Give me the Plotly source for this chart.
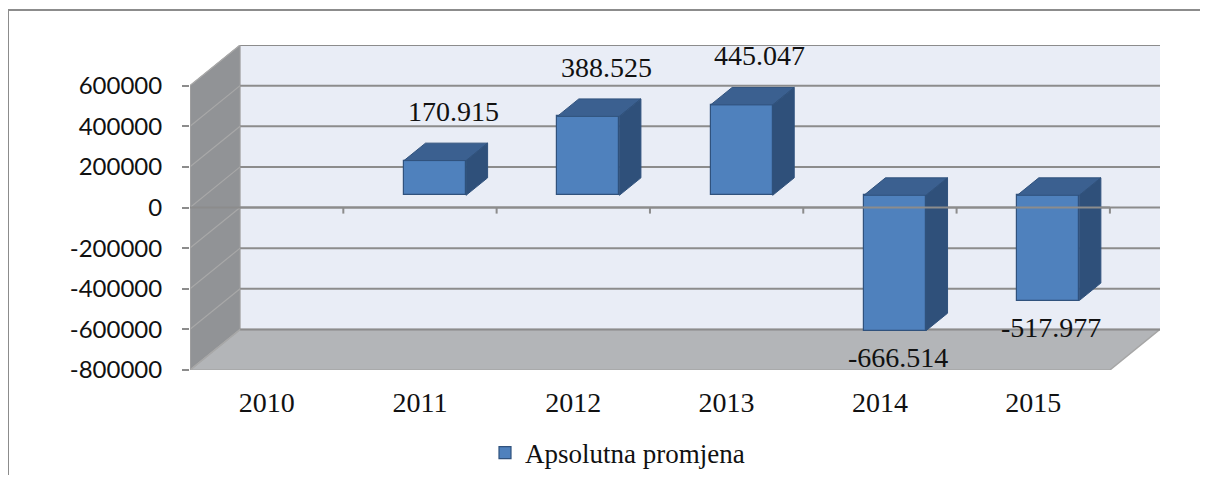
import plotly.graph_objects as go

# ---- data ----
years = ["2010", "2011", "2012", "2013", "2014", "2015"]
values = [None, 170915, 388525, 445047, -666514, -517977]
series_name = "Apsolutna promjena"
y_ticks = [-800000, -600000, -400000, -200000, 0, 200000, 400000, 600000]

# ---- geometry / style ----
OFF = 8                      # page body margin of the browser
W, Hpx = 1208 - 2 * OFF, 483 - 2 * OFF
ML, MT = 190 - OFF, 45 - OFF
MR = W - (1160 - OFF)
MB = Hpx - (370 - OFF)
DEPTH_X = 50 / 153.0        # depth offset in category units
DEPTH_Y = 200000            # depth offset in value units
BAR_POS = 0.30              # bar front face position within depth
BAR_DEPTH = 0.43            # bar depth fraction
BAR_W = 0.405
Y_MIN, Y_MAX = -800000, 800000
X_MIN, X_MAX = -0.5, len(years) - 0.5 + DEPTH_X

FRONT = "#4F81BD"
TOP = "#3B6090"
SIDE = "#2F507A"
EDGE = "#30527D"
GRID = "#8C8C8C"
WALL = "#E9EDF6"
SIDEWALL = "#919396"
FLOOR = "#B3B5B8"

serif = "Liberation Serif"
sans = "Lato"

fig = go.Figure()

# bar front faces
xs = [i + BAR_POS * DEPTH_X for i in range(len(years))]
base0 = BAR_POS * DEPTH_Y
fig.add_trace(go.Bar(
    x=xs, y=values, base=base0, width=BAR_W, name=series_name,
    marker=dict(color=FRONT, line=dict(color=EDGE, width=1.2)),
    showlegend=True, hoverinfo="skip",
))

# top and side faces computed from values
top_x, top_y, side_x, side_y = [], [], [], []
dx, dy = BAR_DEPTH * DEPTH_X, BAR_DEPTH * DEPTH_Y
for xc, v in zip(xs, values):
    if v is None:
        continue
    x0, x1 = xc - BAR_W / 2, xc + BAR_W / 2
    top = base0 + max(v, 0)
    bot = base0 + min(v, 0)
    top_x += [x0, x1, x1 + dx, x0 + dx, x0, None]
    top_y += [top, top, top + dy, top + dy, top, None]
    side_x += [x1, x1, x1 + dx, x1 + dx, x1, None]
    side_y += [bot, top, top + dy, bot + dy, bot, None]
fig.add_trace(go.Scatter(x=top_x, y=top_y, fill="toself", fillcolor=TOP, mode="lines",
                         line=dict(color=EDGE, width=1), showlegend=False, hoverinfo="skip"))
fig.add_trace(go.Scatter(x=side_x, y=side_y, fill="toself", fillcolor=SIDE, mode="lines",
                         line=dict(color=EDGE, width=1), showlegend=False, hoverinfo="skip"))

shapes = []
x_front_r = len(years) - 0.5
# back wall
shapes.append(dict(type="rect", xref="x", yref="y", x0=X_MIN + DEPTH_X, x1=X_MAX,
                   y0=Y_MIN + DEPTH_Y, y1=Y_MAX, fillcolor=WALL, line=dict(width=0), layer="below"))
# side wall
shapes.append(dict(type="path", xref="x", yref="y",
                   path=f"M{X_MIN},{Y_MIN} L{X_MIN},{y_ticks[-1]} L{X_MIN + DEPTH_X},{y_ticks[-1] + DEPTH_Y} "
                        f"L{X_MIN + DEPTH_X},{Y_MIN + DEPTH_Y} Z",
                   fillcolor=SIDEWALL, line=dict(color="#A0A0A0", width=1), layer="below"))
# floor
shapes.append(dict(type="path", xref="x", yref="y",
                   path=f"M{X_MIN},{Y_MIN} L{x_front_r},{Y_MIN} L{X_MAX},{Y_MIN + DEPTH_Y} "
                        f"L{X_MIN + DEPTH_X},{Y_MIN + DEPTH_Y} Z",
                   fillcolor=FLOOR, line=dict(color="#A6A6A6", width=1.5), layer="below"))
# gridlines on back wall and side wall
for v in y_ticks:
    shapes.append(dict(type="line", xref="x", yref="y", x0=X_MIN + DEPTH_X, x1=X_MAX,
                       y0=v + DEPTH_Y, y1=v + DEPTH_Y, line=dict(color=GRID, width=2), layer="below"))
    shapes.append(dict(type="line", xref="x", yref="y", x0=X_MIN, x1=X_MIN + DEPTH_X,
                       y0=v, y1=v + DEPTH_Y, line=dict(color="#A8A8A8", width=1.2), layer="below"))
# left axis line
shapes.append(dict(type="line", xref="x", yref="y", x0=X_MIN, x1=X_MIN, y0=Y_MIN, y1=y_ticks[-1],
                   line=dict(color="#A0A0A0", width=1.5), layer="below"))
# front zero line with category ticks
shapes.append(dict(type="line", xref="x", yref="y", x0=X_MIN, x1=x_front_r, y0=0, y1=0,
                   line=dict(color=GRID, width=2), layer="above"))
for k in range(1, len(years) + 1):
    shapes.append(dict(type="line", xref="x", yref="y", x0=X_MIN + k, x1=X_MIN + k, y0=0, y1=-30000,
                       line=dict(color=GRID, width=2), layer="above"))

# outer chart border (paper coords from screen pixel positions)
def px_x(p):
    return (p - OFF - ML) / (W - ML - MR)

def px_y(p):
    return (Hpx - MB - (p - OFF)) / (Hpx - MT - MB)

shapes.append(dict(type="rect", xref="paper", yref="paper", x0=px_x(8), x1=px_x(1240),
                   y0=px_y(520), y1=px_y(10), line=dict(color="#8C8C8C", width=2),
                   fillcolor="rgba(0,0,0,0)", layer="below"))

# data labels
annotations = []
lab_font = dict(family=serif, size=28, color="#111")
for xc, v in zip(xs, values):
    if v is None:
        continue
    txt = f"{v:,}".replace(",", ".")
    if v >= 0:
        annotations.append(dict(x=xc, y=base0 + v, xref="x", yref="y", text=txt, showarrow=False,
                                yshift=49, xshift=18, font=lab_font))
    else:
        annotations.append(dict(x=xc, y=base0 + v, xref="x", yref="y", text=txt, showarrow=False,
                                yshift=-27, xshift=3, font=lab_font))

fig.update_layout(
    width=W, height=Hpx,
    margin=dict(l=ML, r=MR, t=MT, b=MB, autoexpand=False),
    paper_bgcolor="white", plot_bgcolor="white",
    shapes=shapes, annotations=annotations,
    showlegend=True,
    legend=dict(orientation="h", x=px_x(485), xanchor="left", y=px_y(453), yanchor="middle",
                font=dict(family=serif, size=27, color="#111"), bgcolor="rgba(0,0,0,0)"),
    xaxis=dict(range=[X_MIN, X_MAX], tickvals=list(range(len(years))), ticktext=years,
               showgrid=False, zeroline=False, showline=False, ticks="", automargin=False,
               tickfont=dict(family=serif, size=28, color="#111"), ticklabelstandoff=13),
    yaxis=dict(range=[Y_MIN, Y_MAX], tickvals=y_ticks, ticktext=[str(t) for t in y_ticks],
               showgrid=False, zeroline=False, showline=False, ticks="outside", ticklen=7,
               tickwidth=2, tickcolor=GRID, ticklabelstandoff=15, automargin=False,
               tickfont=dict(family=sans, size=24, color="#111")),
    bargap=0,
)

fig.write_html("out.html")
